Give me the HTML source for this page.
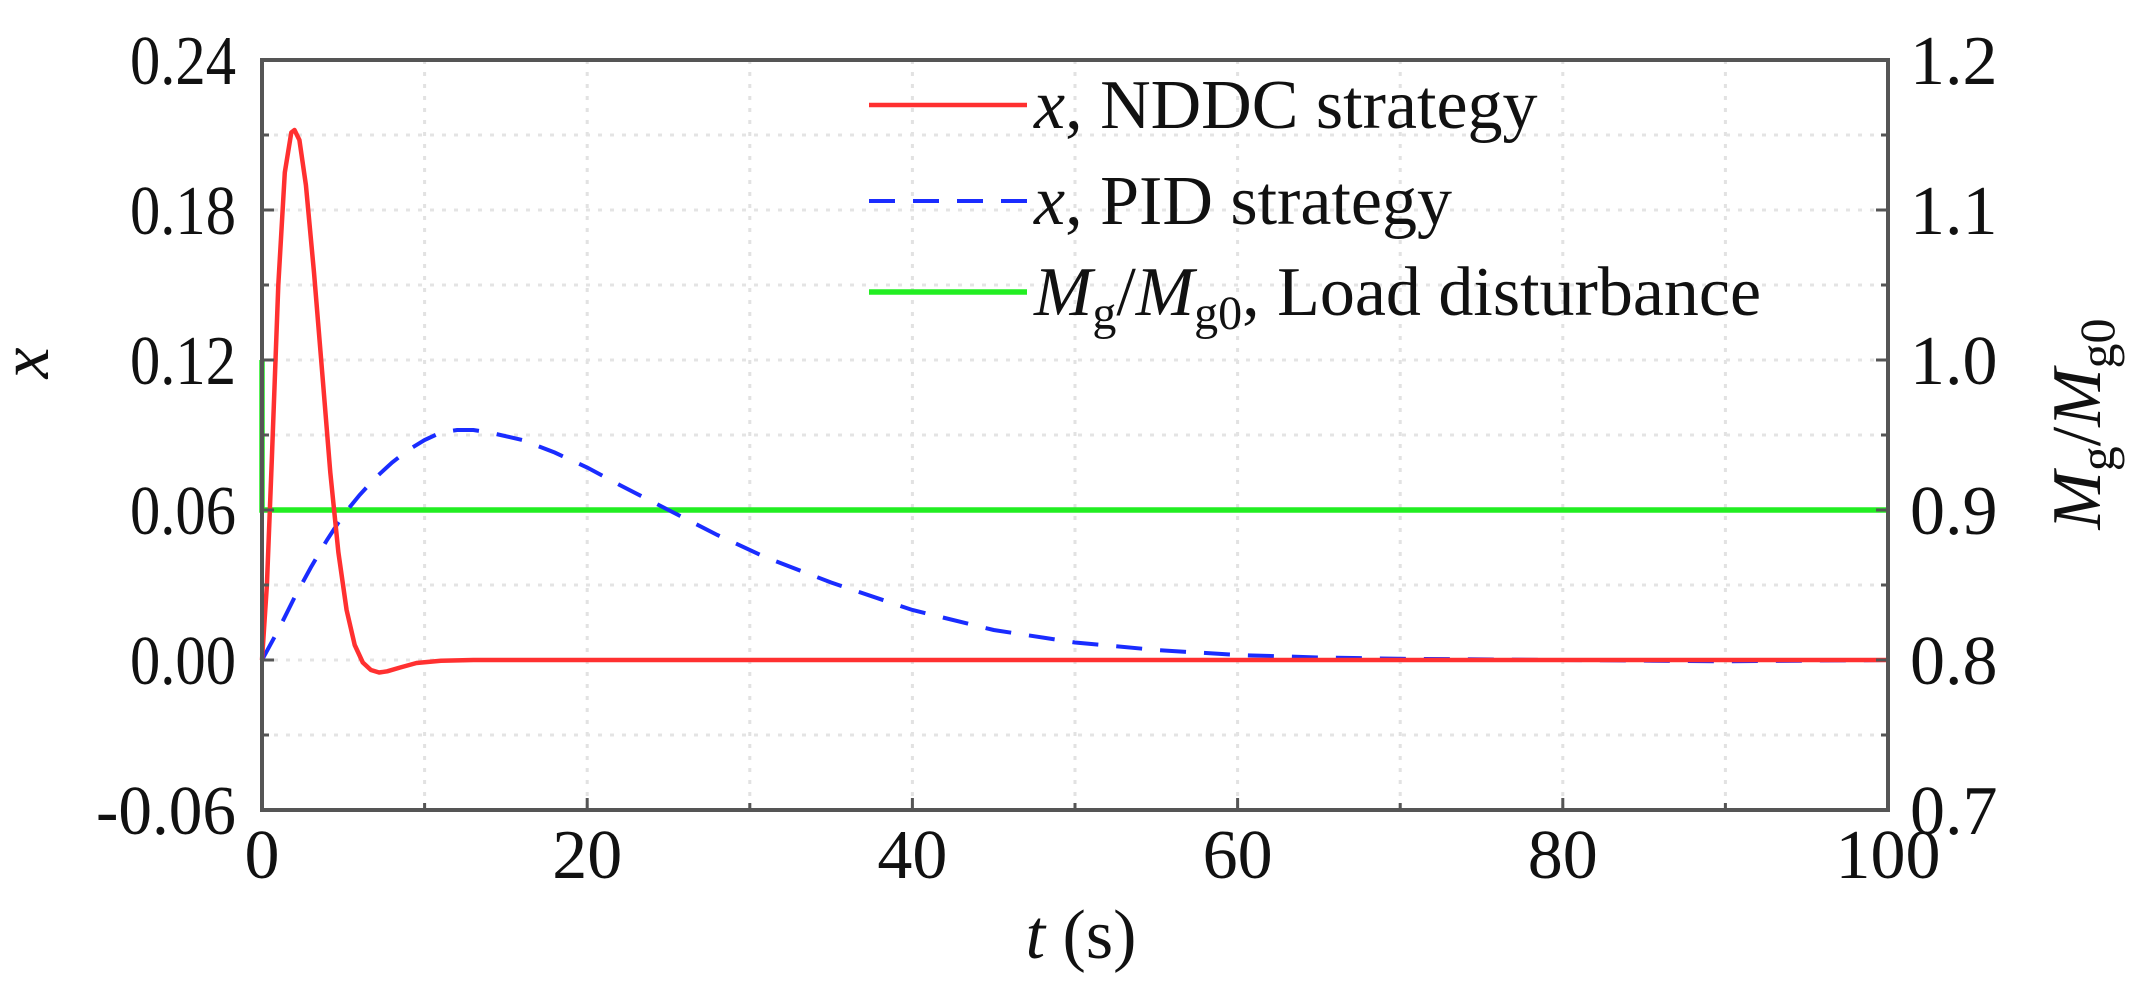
<!DOCTYPE html>
<html><head><meta charset="utf-8"><style>
html,body{margin:0;padding:0;background:#fff;}
svg{display:block;font-family:"Liberation Serif",serif;}
</style></head><body>
<svg id="chart" width="2135" height="1004" viewBox="0 0 2135 1004" xmlns="http://www.w3.org/2000/svg">
<rect width="2135" height="1004" fill="#fff"/>
<g id="grid"></g>
<g id="series"></g>
<g id="axes"></g>
<g id="legend" font-size="70" fill="#111">
  <line x1="869" y1="105" x2="1027" y2="105" stroke="#ff3030" stroke-width="4.5"/>
  <text x="1034" y="128"><tspan font-style="italic">x</tspan>, NDDC strategy</text>
  <line x1="869" y1="201" x2="1027" y2="201" stroke="#1a2cff" stroke-width="4" stroke-dasharray="26 18"/>
  <text x="1034" y="224"><tspan font-style="italic">x</tspan>, PID strategy</text>
  <line x1="869" y1="292" x2="1027" y2="292" stroke="#22ee22" stroke-width="5.5"/>
  <text x="1034" y="315"><tspan font-style="italic">M</tspan><tspan font-size="48" dy="14">g</tspan><tspan dy="-14">/</tspan><tspan font-style="italic">M</tspan><tspan font-size="48" dy="14">g0</tspan><tspan dy="-14">, Load disturbance</tspan></text>
</g>
<text x="1081" y="958" font-size="70" text-anchor="middle" fill="#111"><tspan font-style="italic">t</tspan> (s)</text>
<text x="0" y="0" font-size="70" font-style="italic" text-anchor="middle" fill="#111" transform="translate(48,363) rotate(-90)">x</text>
<text x="0" y="0" font-size="70" text-anchor="middle" fill="#111" transform="translate(2100,424) rotate(-90)"><tspan font-style="italic">M</tspan><tspan font-size="50" dy="14">g</tspan><tspan dy="-14">/</tspan><tspan font-style="italic">M</tspan><tspan font-size="50" dy="14">g0</tspan></text>
</svg>
<script>
const xTicks=[0,20,40,60,80,100];
const yLeftTicks=[-0.06,0.00,0.06,0.12,0.18,0.24];
const yLeftLabels=["-0.06","0.00","0.06","0.12","0.18","0.24"];
const yRightTicks=[0.7,0.8,0.9,1.0,1.1,1.2];
const yRightLabels=["0.7","0.8","0.9","1.0","1.1","1.2"];
const nddcT=[0,0.3,0.6,1,1.4,1.8,2,2.3,2.7,3.2,3.7,4.2,4.7,5.2,5.7,6.2,6.7,7.2,7.7,8.5,9.5,11,13,20,100];
const nddcX=[0,0.03,0.08,0.15,0.195,0.211,0.212,0.208,0.19,0.155,0.115,0.075,0.043,0.02,0.006,-0.001,-0.004,-0.005,-0.0045,-0.003,-0.0012,-0.0003,0,0,0];
const pidT=[0,1,2,3,4,5,6,7,8,9,10,11,12,13,14,16,18,20,22,25,28,31,35,40,45,50,55,60,65,70,80,90,100];
const pidX=[0,0.012,0.025,0.037,0.048,0.058,0.066,0.073,0.079,0.084,0.088,0.091,0.092,0.092,0.091,0.088,0.083,0.077,0.07,0.06,0.05,0.041,0.031,0.02,0.012,0.007,0.004,0.002,0.001,0.0005,0,-0.0005,0];
const loadT=[0,0,100];
const loadM=[1.0,0.9,0.9];

const L=262,R=1888,T=60,B=810;
const sx=t=>L+(t-0)/(100-0)*(R-L);
const syL=v=>B-(v-(-0.06))/(0.30)*(B-T);
const syR=v=>B-(v-0.7)/(0.5)*(B-T);
const NS="http://www.w3.org/2000/svg";
function mk(tag,attrs,parent){const e=document.createElementNS(NS,tag);for(const k in attrs)e.setAttribute(k,attrs[k]);parent.appendChild(e);return e;}
const grid=document.getElementById('grid'),series=document.getElementById('series'),axes=document.getElementById('axes');
for(let t=10;t<100;t+=10){
  const g=mk('line',{x1:sx(t),y1:T,x2:sx(t),y2:B,stroke:'#e2e2e2','stroke-width':3,'stroke-dasharray':'4 8'},grid);
  
  
}
for(let i=1;i<10;i++){
  const v=-0.06+i*0.03;
  const g=mk('line',{x1:L,y1:syL(v),x2:R,y2:syL(v),stroke:'#e4e4e4','stroke-width':3,'stroke-dasharray':'4 8'},grid);
  
  
}
function path(ts,vs,sy){return ts.map((t,i)=>(i?'L':'M')+sx(t).toFixed(1)+','+sy(vs[i]).toFixed(1)).join(' ');}
const pg=mk('path',{d:path(loadT,loadM,syR),fill:'none',stroke:'#22ee22','stroke-width':5.5},series);


const pb=mk('path',{d:path(pidT,pidX,syL),fill:'none',stroke:'#1a2cff','stroke-width':4,'stroke-dasharray':'26 18'},series);


const pr=mk('path',{d:path(nddcT,nddcX,syL),fill:'none',stroke:'#ff3030','stroke-width':4.5,'stroke-linejoin':'round'},series);


const fr=mk('rect',{x:L,y:T,width:R-L,height:B-T,fill:'none',stroke:'#555','stroke-width':4},axes);


for(let t=0;t<=100;t+=10){
  const len=(t%20===0)?12:7;
  const tk=mk('line',{x1:sx(t),y1:B,x2:sx(t),y2:B-len,stroke:'#555','stroke-width':3},axes);
  
  
}
xTicks.forEach(t=>{
  const tx=mk('text',{x:sx(t),y:878,'font-size':70,'text-anchor':'middle',fill:'#111'},axes);
  tx.textContent=String(t);
  
  
});
for(let i=0;i<=10;i++){
  const v=-0.06+i*0.03;const len=(i%2===0)?12:7;
  const a=mk('line',{x1:L,y1:syL(v),x2:L+len,y2:syL(v),stroke:'#555','stroke-width':3},axes);
  
  
  const b=mk('line',{x1:R,y1:syL(v),x2:R-len,y2:syL(v),stroke:'#555','stroke-width':3},axes);
  
  
}
yLeftTicks.forEach((v,i)=>{
  const tx=mk('text',{x:236,y:syL(v)+24,'font-size':70,'text-anchor':'end',fill:'#111',textLength:i===0?140:106,lengthAdjust:'spacingAndGlyphs'},axes);
  tx.textContent=yLeftLabels[i];
  
  
});
yRightTicks.forEach((v,i)=>{
  const tx=mk('text',{x:1910,y:syR(v)+24,'font-size':70,'text-anchor':'start',fill:'#111'},axes);
  tx.textContent=yRightLabels[i];
  
  
});
</script>
</body></html>
